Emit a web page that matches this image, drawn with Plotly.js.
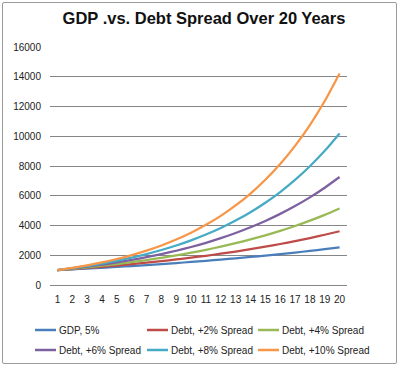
<!DOCTYPE html>
<html><head><meta charset="utf-8">
<script src="https://cdn.plot.ly/plotly-3.0.1.min.js"></script>
<style>html,body{margin:0;padding:0;background:#fff}#wrap{position:relative;width:400px;height:367px}#frame{position:absolute;left:2px;top:2px;width:393px;height:360px;border:1px solid #9a9a9a;border-radius:2px;pointer-events:none}</style>
</head><body><div id="wrap"><div id="chart" style="width:400px;height:367px"></div><div id="frame"></div></div>
<script>
const years = ['1','2','3','4','5','6','7','8','9','10','11','12','13','14','15','16','17','18','19','20'];
const seriesNames = ['GDP, 5%','Debt, +2% Spread','Debt, +4% Spread','Debt, +6% Spread','Debt, +8% Spread','Debt, +10% Spread'];
const gdp5 = [1000,1050,1103,1158,1216,1276,1340,1407,1477,1551,1629,1710,1796,1886,1980,2079,2183,2292,2407,2527];
const debt2 = [1000,1070,1145,1225,1311,1403,1501,1606,1718,1838,1967,2105,2252,2410,2579,2759,2952,3159,3380,3617];
const debt4 = [1000,1090,1188,1295,1412,1539,1677,1828,1993,2172,2367,2580,2813,3066,3342,3642,3970,4328,4717,5142];
const debt6 = [1000,1110,1232,1368,1518,1685,1870,2076,2305,2558,2839,3152,3498,3883,4310,4785,5311,5895,6544,7263];
const debt8 = [1000,1130,1277,1443,1630,1842,2082,2353,2658,3004,3395,3836,4335,4898,5535,6254,7067,7986,9024,10197];
const debt10 = [1000,1150,1323,1521,1749,2011,2313,2660,3059,3518,4046,4652,5350,6153,7076,8137,9358,10761,12375,14232];
const yTicks = [0,2000,4000,6000,8000,10000,12000,14000,16000];
const colors = ['#4A7EBB','#BE4B48','#98B954','#7D60A0','#46AAC5','#F79646'];
const allSeries = [gdp5,debt2,debt4,debt6,debt8,debt10];

const W = 400, H = 367, M = {l:50, r:53, t:47, b:82};
const pw = W - M.l - M.r, ph = H - M.t - M.b;
const px2x = p => (p - M.l) / pw;
const py2y = p => (H - M.b - p) / ph;

const traces = allSeries.map((ys,i)=>({
  type:'scatter', mode:'lines', x:years, y:ys, name:seriesNames[i],
  line:{color:colors[i], width:2.25, shape:'spline', smoothing:0.6}
}));

// legend drawn as shapes + annotations (3 columns x 2 rows)
const colStart = [35, 147, 258], rowY = [330, 350];
const shapes = [], annotations = [];
seriesNames.forEach((nm,i)=>{
  const c = i % 3, r = Math.floor(i / 3);
  shapes.push({type:'line', xref:'paper', yref:'paper',
    x0:px2x(colStart[c]), x1:px2x(colStart[c]+21), y0:py2y(rowY[r]), y1:py2y(rowY[r]),
    line:{color:colors[i], width:2.5}});
  annotations.push({xref:'paper', yref:'paper', x:px2x(colStart[c]+22), y:py2y(rowY[r]),
    xanchor:'left', yanchor:'middle', showarrow:false, text:nm,
    font:{size:10, color:'#222'}});
});

const layout = {
  width:W, height:H,
  margin:M,
  paper_bgcolor:'#fff', plot_bgcolor:'#fff',
  font:{family:'Liberation Sans, Arial, sans-serif', size:10, color:'#222'},
  title:{text:'<b>GDP .vs. Debt Spread Over 20 Years</b>', font:{size:16.5, color:'#111', family:'Liberation Sans, Arial, sans-serif'}, x:0.51, xanchor:'center', y:0.95, yanchor:'middle'},
  xaxis:{type:'category', range:[-0.5,19.5], showgrid:false, showline:true, linecolor:'#868686', linewidth:1, ticks:'', ticklabelstandoff:5, tickfont:{size:10}, zeroline:false, automargin:false},
  yaxis:{range:[0,16010], tickvals:yTicks, ticktext:yTicks.map(String), showgrid:true, gridcolor:'#868686', gridwidth:1, showline:false, zeroline:false, ticks:'', ticklabelstandoff:8, tickfont:{size:10}, automargin:false},
  showlegend:false,
  shapes:shapes, annotations:annotations
};
Plotly.newPlot('chart', traces, layout, {displayModeBar:false, staticPlot:true});
</script></body></html>
